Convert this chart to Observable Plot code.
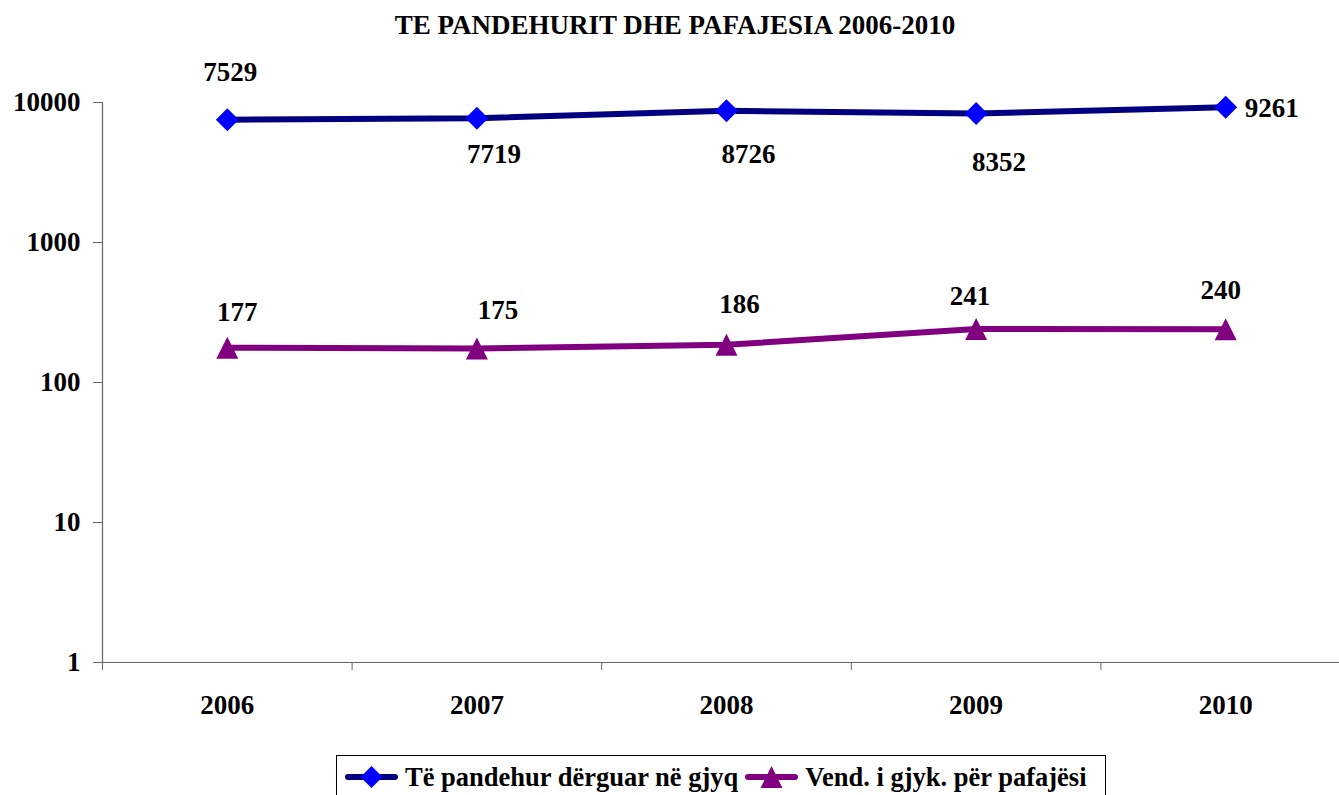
<!DOCTYPE html>
<html>
<head>
<meta charset="utf-8">
<script src="https://cdn.jsdelivr.net/npm/d3@7"></script>
<script src="https://cdn.jsdelivr.net/npm/@observablehq/plot@0.6"></script>
<style>
  html, body { margin: 0; padding: 0; background: #fff; }
  body { width: 1339px; height: 795px; overflow: hidden; position: relative;
         font-family: "Liberation Serif", "DejaVu Serif", serif; font-weight: bold; }
  #title { height: 50px; box-sizing: border-box; padding-top: 12px; padding-left: 11px;
           text-align: center; font-size: 27px; line-height: 27px; color: #000;
           font-family: "Liberation Serif", "DejaVu Serif", serif; }
  #chart svg { display: block; }
  #chart svg text { font-family: "Liberation Serif", "DejaVu Serif", serif !important; font-weight: bold; }
  #legend { position: absolute; left: 336px; top: 755px; width: 770px; height: 44px;
            border: 1px solid #000; display: flex; align-items: center;
            padding-left: 8px; box-sizing: border-box; font-size: 26.5px; color: #000; white-space: nowrap;
            font-family: "Liberation Serif", "DejaVu Serif", serif; }
  #legend span { font-family: "Liberation Serif", "DejaVu Serif", serif; font-weight: bold; }
  .item { display: flex; align-items: center; }
  .item svg { display: block; margin-right: 7px; }
  .gap { width: 7px; }
</style>
</head>
<body>
<div id="title">TE PANDEHURIT DHE PAFAJESIA 2006-2010</div>
<div id="chart"></div>
<div id="legend"></div>
<script>
// ---- data ----
const years = [2006, 2007, 2008, 2009, 2010];
const sentToCourt = [7529, 7719, 8726, 8352, 9261];   // Të pandehur dërguar në gjyq
const acquitted = [177, 175, 186, 241, 240];           // Vend. i gjyk. për pafajësi
const yTicks = [1, 10, 100, 1000, 10000];
const seriesNames = ["Të pandehur dërguar në gjyq", "Vend. i gjyk. për pafajësi"];

// ---- layout (label nudges in pixels, not data) ----
const nudgeSent = [[3, -47], [17, 36], [22, 44], [23, 49], [19, 1]];
const nudgeAcq = [[10, -35], [21, -38], [13, -40], [-6, -33], [-5, -39]];

const data = years.map((year, i) => ({year, sent: sentToCourt[i], acq: acquitted[i]}));
const boundaries = years.map(y => y - 0.5);

const diamond = {draw(ctx, size) { const r = Math.sqrt(size / Math.PI);
  ctx.moveTo(0, -r); ctx.lineTo(r, 0); ctx.lineTo(0, r); ctx.lineTo(-r, 0); ctx.closePath(); }};
const triangle = {draw(ctx, size) { const r = Math.sqrt(size / Math.PI);
  ctx.moveTo(0, -r); ctx.lineTo(r, r); ctx.lineTo(-r, r); ctx.closePath(); }};

const FONT = "Liberation Serif, DejaVu Serif, serif";
const axisGray = "#666";
const labelMarks = [];
data.forEach((d, i) => {
  const [dx1, dy1] = nudgeSent[i];
  labelMarks.push(Plot.text([d], {x: "year", y: "sent", text: d => String(d.sent), dx: dx1, dy: dy1,
    textAnchor: i === 4 ? "start" : "middle", fill: "#000", fontFamily: FONT, fontWeight: "bold", fontSize: 27}));
  const [dx2, dy2] = nudgeAcq[i];
  labelMarks.push(Plot.text([d], {x: "year", y: "acq", text: d => String(d.acq), dx: dx2, dy: dy2,
    fill: "#000", fontFamily: FONT, fontWeight: "bold", fontSize: 27}));
});

const chart = Plot.plot({
  width: 1339,
  height: 700,
  marginLeft: 102,
  marginRight: 0,
  marginTop: 52,
  marginBottom: 88,
  style: {fontFamily: FONT, fontSize: "27px",
          fontWeight: "bold", color: "#000", background: "#fff", overflow: "visible"},
  x: {type: "linear", domain: [2005.5, 2010.5], range: [102, 1350], axis: null},
  y: {type: "log", domain: [1, 10000], axis: null},
  marks: [
    Plot.ruleY([1], {stroke: axisGray, strokeWidth: 1.2}),
    Plot.ruleX([2005.5], {stroke: axisGray, strokeWidth: 1.2}),
    Plot.axisY(yTicks, {tickSize: 9, tickPadding: 13, tickFormat: d => String(d), stroke: axisGray,
      fill: "#000", label: null, fontFamily: FONT, fontWeight: "bold", fontSize: 27}),
    Plot.axisX(boundaries, {tickSize: 8, tickFormat: () => "", stroke: axisGray, label: null}),
    Plot.axisX(years, {tickSize: 0, tickPadding: 32, tickFormat: d => String(d), fill: "#000", label: null,
      fontFamily: FONT, fontWeight: "bold", fontSize: 27}),
    Plot.line(data, {x: "year", y: "sent", stroke: "#000080", strokeWidth: 6}),
    Plot.line(data, {x: "year", y: "acq", stroke: "#800080", strokeWidth: 6}),
    Plot.dot(data, {x: "year", y: "sent", symbol: diamond, r: 11.5, fill: "#0000FF", stroke: "none"}),
    Plot.dot(data, {x: "year", y: "acq", symbol: triangle, r: 11, fill: "#800080", stroke: "none"}),
    ...labelMarks
  ]
});
document.getElementById("chart").appendChild(chart);

// ---- legend ----
function swatch(color, markColor, shape) {
  const w = 53, h = 30, cx = w / 2, cy = h / 2, r = 11;
  const svg = d3.create("svg").attr("width", w).attr("height", h);
  svg.append("line").attr("x1", 3).attr("x2", w - 3).attr("y1", cy).attr("y2", cy)
    .attr("stroke", color).attr("stroke-width", 6).attr("stroke-linecap", "round");
  const p = d3.path();
  if (shape === "diamond") { p.moveTo(cx, cy - r); p.lineTo(cx + r, cy); p.lineTo(cx, cy + r); p.lineTo(cx - r, cy); }
  else { p.moveTo(cx, cy - r); p.lineTo(cx + r, cy + r); p.lineTo(cx - r, cy + r); }
  p.closePath();
  svg.append("path").attr("d", p.toString()).attr("fill", markColor);
  return svg.node();
}
const legend = document.getElementById("legend");
[[seriesNames[0], "#000080", "#0000FF", "diamond"], [seriesNames[1], "#800080", "#800080", "triangle"]]
  .forEach(([name, c, mc, shape], i) => {
    if (i > 0) { const g = document.createElement("div"); g.className = "gap"; legend.appendChild(g); }
    const item = document.createElement("div"); item.className = "item";
    item.appendChild(swatch(c, mc, shape));
    const t = document.createElement("span"); t.textContent = name; item.appendChild(t);
    legend.appendChild(item);
  });
</script>
</body>
</html>
